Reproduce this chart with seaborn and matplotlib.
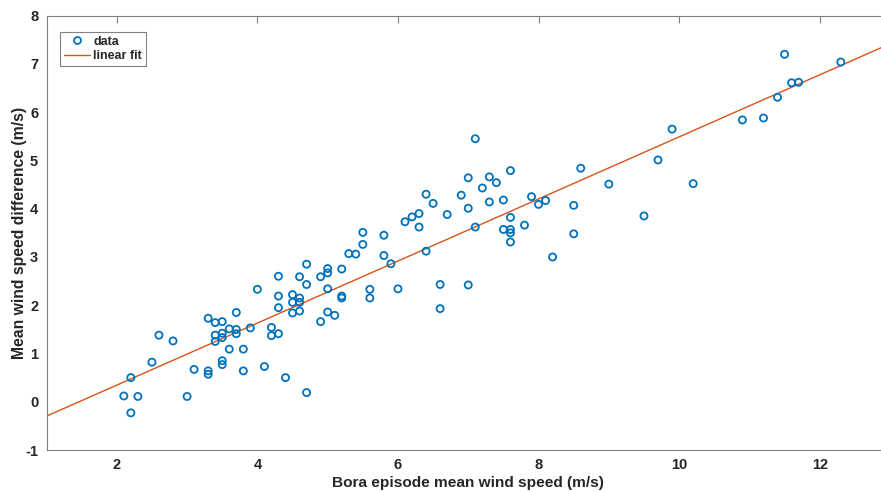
import numpy as np
import pandas as pd
import matplotlib
matplotlib.use("Agg")
import matplotlib.pyplot as plt
import seaborn as sns
from matplotlib.lines import Line2D

speed = [2.1, 2.2, 2.3, 2.2, 2.5, 2.6, 2.8, 3.0, 3.1, 3.3, 3.3, 3.3, 3.4, 3.5, 3.4, 3.4,
         3.5, 3.5, 3.5, 3.5, 3.6, 3.6, 3.7, 3.7, 3.7, 3.8, 3.8, 3.9, 4.0, 4.1, 4.2, 4.2,
         4.3, 4.3, 4.3, 4.3, 4.4, 4.5, 4.5, 4.5, 4.6, 4.6, 4.6, 4.6, 4.7, 4.7, 4.7, 4.9,
         4.9, 5.0, 5.0, 5.0, 5.0, 5.1, 5.2, 5.2, 5.2, 5.3, 5.4, 5.5, 5.5, 5.6, 5.6, 5.8,
         5.8, 5.9, 6.0, 6.1, 6.2, 6.3, 6.3, 6.4, 6.4, 6.5, 6.6, 6.6, 6.7, 6.9, 7.0, 7.0,
         7.0, 7.1, 7.1, 7.2, 7.3, 7.3, 7.4, 7.5, 7.5, 7.6, 7.6, 7.6, 7.6, 7.6, 7.8, 7.9,
         8.0, 8.1, 8.2, 8.5, 8.5, 8.6, 9.0, 9.5, 9.7, 9.9, 10.2, 10.9, 11.2, 11.4, 11.5,
         11.6, 11.7, 12.3]
diff = [0.12, 0.50, 0.11, -0.23, 0.82, 1.38, 1.26, 0.11, 0.67, 0.64, 0.57, 1.73, 1.64, 1.66,
        1.38, 1.25, 1.42, 1.33, 0.85, 0.77, 1.51, 1.09, 1.85, 1.50, 1.41, 1.09, 0.64, 1.53,
        2.33, 0.73, 1.54, 1.37, 2.60, 2.19, 1.95, 1.41, 0.50, 2.22, 2.06, 1.84, 2.59, 2.15,
        2.06, 1.88, 2.85, 2.43, 0.19, 2.59, 1.66, 2.76, 2.67, 2.34, 1.86, 1.79, 2.75, 2.19,
        2.15, 3.07, 3.06, 3.51, 3.26, 2.33, 2.15, 3.45, 3.03, 2.86, 2.34, 3.73, 3.83, 3.90,
        3.62, 4.30, 3.12, 4.11, 2.43, 1.93, 3.88, 4.28, 4.64, 4.01, 2.42, 3.62, 5.45, 4.43,
        4.66, 4.14, 4.54, 4.18, 3.57, 4.79, 3.82, 3.57, 3.50, 3.31, 3.66, 4.25, 4.09, 4.17,
        3.00, 4.07, 3.48, 4.84, 4.51, 3.85, 5.01, 5.65, 4.52, 5.84, 5.88, 6.31, 7.20, 6.61,
        6.62, 7.04]
x_ticks = [2, 4, 6, 8, 10, 12]
y_ticks = [-1, 0, 1, 2, 3, 4, 5, 6, 7, 8]

df = pd.DataFrame({"speed": speed, "diff": diff})

sns.set_style("white")
plt.rcParams['font.family'] = ['Liberation Sans', 'DejaVu Sans']
plt.rcParams['font.weight'] = 'bold'
plt.rcParams['axes.unicode_minus'] = False

blue = "#0072BD"
orange = "#D95319"
gray = "#808080"

fig = plt.figure(figsize=(8.81, 4.92), dpi=100)
W, H = 881, 492
left, right, top, bottom = 46.5, 890.0, 15.7, 450.0
ax = fig.add_axes([left / W, (H - bottom) / H, (right - left) / W, (bottom - top) / H])
ax.set_xlim(1, 13)
ax.set_ylim(-1, 8)

sns.scatterplot(data=df, x="speed", y="diff", ax=ax, marker="o", s=26,
                facecolors="none", edgecolor=blue, linewidth=1.3, zorder=3)
sns.regplot(data=df, x="speed", y="diff", ax=ax, scatter=False, ci=None, truncate=False,
            line_kws=dict(color=orange, lw=1.0, zorder=2))
ax.set_xlim(1, 13)
ax.set_ylim(-1, 8)

ax.set_xticks(x_ticks)
ax.set_yticks(y_ticks)
ax.tick_params(direction="in", length=5, width=0.8, color=gray, labelsize=10.5,
               labelcolor="#262626", top=True, right=True, pad=6)
for lab in ax.get_xticklabels() + ax.get_yticklabels():
    lab.set_fontweight("bold")
for sp in ax.spines.values():
    sp.set_visible(True)
    sp.set_color(gray)
    sp.set_linewidth(0.8)

ax.set_xlabel("Bora episode mean wind speed (m/s)", fontsize=11.1, fontweight="bold",
              color="#262626", labelpad=3)
ax.set_ylabel("Mean wind speed difference (m/s)", fontsize=11.3, fontweight="bold",
              color="#262626", labelpad=-1)

handles = [Line2D([], [], marker="o", ls="none", mfc="none", mec=blue, mew=1.3, ms=5),
           Line2D([], [], color=orange, lw=1.0)]
leg = ax.legend(handles, ["data", "linear fit"], loc="upper left",
                bbox_to_anchor=(0.016, 0.963), fancybox=False, edgecolor=gray,
                framealpha=1, fontsize=9, handlelength=2.1, borderpad=0.3,
                labelspacing=0.2, handletextpad=0.25, borderaxespad=0)
leg.get_frame().set_linewidth(0.8)
for t in leg.get_texts():
    t.set_fontweight("bold")

fig.savefig("out.png", dpi=100)
